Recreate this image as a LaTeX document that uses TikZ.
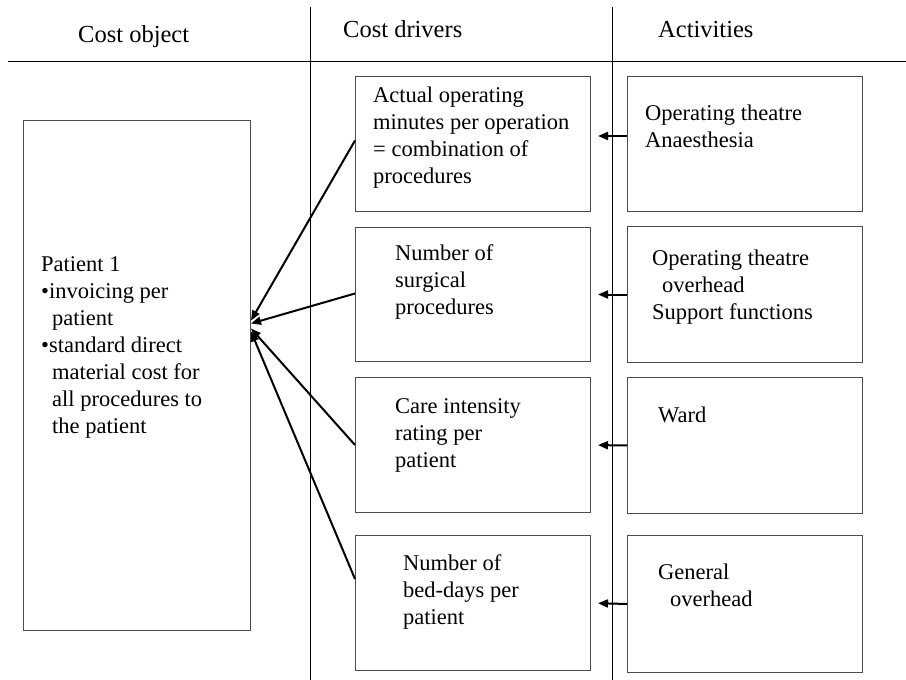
\documentclass[tikz,border=0pt]{standalone}
\usepackage{fontspec}
\setmainfont{Liberation Serif}
\usetikzlibrary{arrows.meta}
\begin{document}
\begin{tikzpicture}[x=1pt,y=-1pt,
  box/.style={draw=black!70, line width=1pt, inner sep=0pt, anchor=north west, minimum width=235pt},
  txt/.style={anchor=base west, align=left, inner sep=0pt, font=\fontsize{22.5}{27}\selectfont},
  head/.style={anchor=base west, inner sep=0pt, font=\fontsize{24.5}{29}\selectfont},
  rule/.style={draw=black, line width=0.8pt},
  arr/.style={draw=black, line width=2pt, -{Triangle[length=10pt,width=8pt]}}]
\useasboundingbox (0,0) rectangle (906,680);
% header rules
\draw[rule] (8,61) -- (906,61);
\draw[rule] (310,7) -- (310,680);
\draw[rule] (612,7) -- (612,680);
% headers
\node[head] (h1) at (78,42) {Cost object};
\node[head] (h2) at (343,37) {Cost drivers};
\node[head] (h3) at (658,37) {Activities};
% patient box
\node[box, minimum width=227pt, minimum height=510pt] (p) at (23,120) {};
\node[txt] (pt) at (41,433) {Patient 1\\ •invoicing per\\ \hspace*{11pt}patient\\ •standard direct\\ \hspace*{11pt}material cost for\\ \hspace*{11pt}all procedures to\\ \hspace*{11pt}the patient};
% cost driver boxes
\node[box, minimum height=135pt] (d1) at (355,76) {};
\node[box, minimum height=134pt] (d2) at (355,227) {};
\node[box, minimum height=135pt] (d3) at (355,377) {};
\node[box, minimum height=135pt] (d4) at (355,535) {};
\node[txt] (d1t) at (373,183) {Actual operating\\ minutes per operation\\ = combination of\\ procedures};
\node[txt] (d2t) at (395,314) {Number of\\ surgical\\ procedures};
\node[txt] (d3t) at (395,467) {Care intensity\\ rating per\\ patient};
\node[txt] (d4t) at (403,624) {Number of\\ bed-days per\\ patient};
% activity boxes
\node[box, minimum height=135pt] (a1) at (627,76) {};
\node[box, minimum height=136pt] (a2) at (627,226) {};
\node[box, minimum height=136pt] (a3) at (627,377) {};
\node[box, minimum height=137pt] (a4) at (627,535) {};
\node[txt] (a1t) at (645,147) {Operating theatre\\ Anaesthesia};
\node[txt] (a2t) at (652,319) {Operating theatre\\ \hspace*{10pt}overhead\\ Support functions};
\node[txt] (a3t) at (658,422) {Ward};
\node[txt] (a4t) at (658,606) {General\\ \hspace*{12pt}overhead};
% activity -> driver arrows
\draw[arr, shorten >=7pt] ([yshift=8pt]a1.west) -- ([yshift=8pt]d1.east);
\draw[arr, shorten >=7pt] (a2.west) -- (d2.east);
\draw[arr, shorten >=7pt] (a3.west) -- (d3.east);
\draw[arr, shorten >=7pt] (a4.west) -- (d4.east);
% driver -> patient arrows
\draw[arr] ([yshift=3.5pt]d1.west) -- ([yshift=55pt]p.east);
\draw[arr] ([yshift=1pt]d2.west) -- ([yshift=52pt]p.east);
\draw[arr] (d3.west) -- ([yshift=47pt]p.east);
\draw[arr] ([yshift=24pt]d4.west) -- ([yshift=44pt]p.east);
\end{tikzpicture}
\end{document}
